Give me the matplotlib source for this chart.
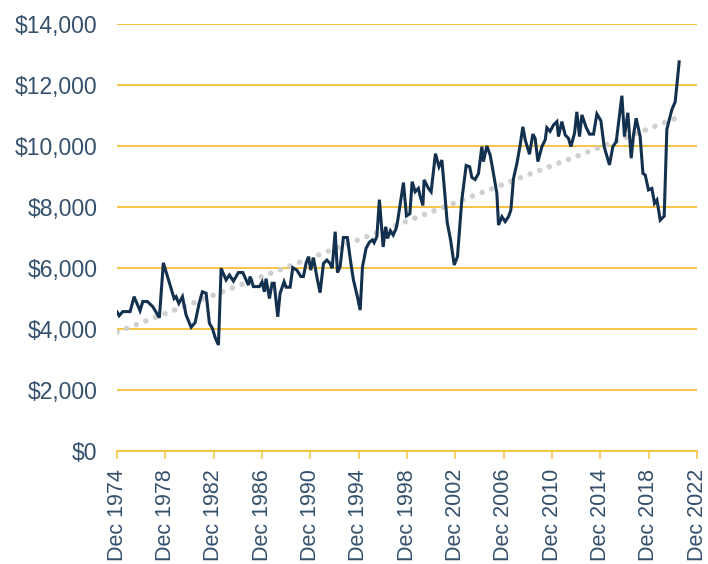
import matplotlib
matplotlib.use("Agg")
import matplotlib.pyplot as plt
from matplotlib.ticker import FuncFormatter

# quarterly-ish readings, decimal years (Dec 1974 = 1974.92)
years = [
    1974.92, 1975.09, 1975.39, 1976.00, 1976.33, 1976.82, 1977.05, 1977.43, 1977.88, 1978.42,
    1978.75, 1979.64, 1979.80, 1980.03, 1980.33, 1980.63, 1981.05, 1981.38, 1981.71, 1981.98,
    1982.29, 1982.56, 1982.81, 1983.03, 1983.31, 1983.53, 1983.94, 1984.22, 1984.55, 1984.96,
    1985.33, 1985.79, 1985.93, 1986.20, 1986.70, 1986.92, 1987.11, 1987.25, 1987.53, 1987.75,
    1987.92, 1988.22, 1988.41, 1988.74, 1988.91, 1989.24, 1989.46, 1989.80, 1990.13, 1990.34,
    1990.57, 1990.76, 1990.95, 1991.17, 1991.45, 1991.72, 1992.00, 1992.28, 1992.55, 1992.72,
    1992.97, 1993.16, 1993.38, 1993.65, 1993.98, 1994.27, 1994.48, 1994.81, 1995.04, 1995.23,
    1995.53, 1995.81, 1996.05, 1996.19, 1996.42, 1996.63, 1996.94, 1997.15, 1997.30, 1997.54,
    1997.77, 1998.02, 1998.14, 1998.35, 1998.62, 1998.87, 1999.15, 1999.34, 1999.59, 1999.86,
    2000.00, 2000.23, 2000.33, 2000.69, 2000.91, 2001.27, 2001.56, 2001.80, 2002.03, 2002.24,
    2002.53, 2002.82, 2003.09, 2003.45, 2003.81, 2004.10, 2004.28, 2004.55, 2004.83, 2005.11,
    2005.24, 2005.52, 2005.80, 2006.07, 2006.35, 2006.49, 2006.77, 2007.04, 2007.31, 2007.51,
    2007.73, 2008.01, 2008.28, 2008.50, 2008.70, 2009.05, 2009.33, 2009.52, 2009.75, 2010.08,
    2010.35, 2010.49, 2010.76, 2011.04, 2011.32, 2011.45, 2011.73, 2012.01, 2012.28, 2012.48,
    2012.78, 2012.97, 2013.19, 2013.39, 2013.74, 2014.02, 2014.35, 2014.63, 2014.96, 2015.23,
    2015.67, 2015.95, 2016.23, 2016.70, 2016.91, 2017.19, 2017.47, 2017.66, 2017.88, 2018.21,
    2018.44, 2018.63, 2018.90, 2019.18, 2019.40, 2019.60, 2019.87, 2020.20, 2020.42, 2020.84,
    2021.11, 2021.44,
]
values = [
    4560, 4435, 4570, 4570, 5060, 4600, 4900, 4900, 4730, 4370,
    6170, 5000, 5060, 4840, 5060, 4460, 4060, 4210, 4840, 5220,
    5170, 4190, 4020, 3730, 3475, 5990, 5610, 5770, 5570, 5850,
    5850, 5440, 5720, 5390, 5390, 5540, 5220, 5650, 5000, 5500,
    5500, 4400, 5170, 5550, 5370, 5370, 6010, 5930, 5720, 5720,
    6170, 6370, 5930, 6340, 5720, 5190, 6150, 6260, 6150, 5990,
    7190, 5850, 6040, 7000, 7000, 6150, 5610, 5060, 4620, 6040,
    6650, 6850, 6920, 6830, 7030, 8240, 6690, 7350, 6970, 7220,
    7080, 7300, 7540, 8100, 8800, 7710, 7780, 8830, 8500, 8610,
    8360, 8050, 8890, 8610, 8500, 9750, 9320, 9540, 8500, 7500,
    6900, 6100, 6370, 8230, 9360, 9320, 8970, 8900, 9100, 9980,
    9490, 10000, 9700, 9100, 8450, 7410, 7680, 7520, 7680, 7900,
    8940, 9430, 10030, 10630, 10200, 9730, 10390, 10250, 9490, 9980,
    10200, 10600, 10480, 10690, 10800, 10310, 10800, 10360, 10250, 9980,
    10420, 11120, 10310, 11020, 10610, 10390, 10390, 11050, 10830, 9980,
    9380, 9980, 10140, 11650, 10310, 11090, 9600, 10360, 10910, 10310,
    9100, 9050, 8560, 8610, 8120, 8230, 7570, 7700, 10550, 11200,
    11450, 12760,
]

# straight trend line, start and end readings
trend_years = [1974.92, 2021.44]
trend_values = [3900, 10950]

tick_years = list(range(1974, 2023, 4))
y_ticks = list(range(0, 14001, 2000))

NAVY = "#13314f"
GOLD = "#f6c443"
TEXT = "#34506c"
DOTS = "#d0d0d0"

plt.rcParams["font.family"] = ["Liberation Sans", "DejaVu Sans"]

fig = plt.figure(figsize=(7.08, 5.64), dpi=100)
ax = fig.add_axes([0.1653, 0.2004, 0.8192, 0.7570])

ax.plot(trend_years, trend_values, color=DOTS, linewidth=4.0,
        linestyle=(0, (0.001, 1.85)), dash_capstyle="round", zorder=2)
ax.plot(years, values, color=NAVY, linewidth=2.2, solid_joinstyle="miter", zorder=3)

ax.set_xlim(1974.917, 2022.917)
ax.set_ylim(0, 14000)
ax.set_yticks(y_ticks)
ax.yaxis.set_major_formatter(FuncFormatter(lambda v, _: f"${v:,.0f}"))
ax.set_xticks([y + 11 / 12 for y in tick_years])
ax.set_xticklabels([f"Dec {y}" for y in tick_years], rotation=90)

ax.grid(axis="y", color=GOLD, linewidth=1.4, zorder=1)
ax.set_axisbelow(True)
for side in ("top", "right", "left"):
    ax.spines[side].set_visible(False)
ax.spines["bottom"].set_color(GOLD)
ax.spines["bottom"].set_linewidth(1.4)

ax.tick_params(axis="x", colors=GOLD, length=6, width=1.1, pad=7,
               labelcolor=TEXT, labelsize=15.5)
ax.tick_params(axis="y", length=0, pad=14, labelcolor=TEXT, labelsize=16.5)

fig.savefig("out.png", dpi=100)
